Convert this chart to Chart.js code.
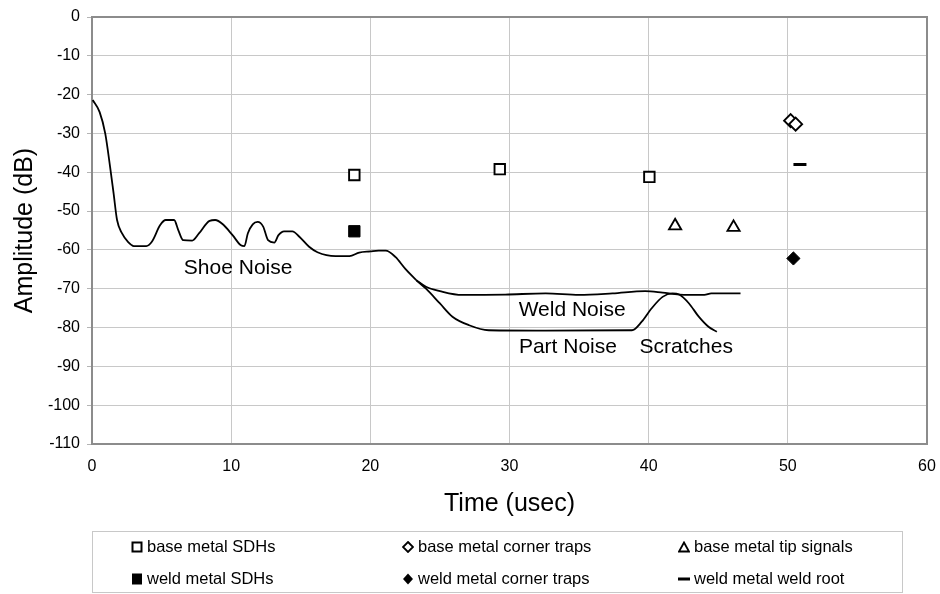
<!DOCTYPE html>
<html>
<head>
<meta charset="utf-8">
<script src="https://cdn.jsdelivr.net/npm/chart.js@4.4.1/dist/chart.umd.min.js"></script>
<style>
  html, body { margin: 0; padding: 0; background: #fff; }
  #wrap { position: relative; width: 940px; height: 594px; }
  #noiseChart { position: absolute; left: 0; top: 0; }
  #legend {
    position: absolute; left: 92px; top: 531px; width: 809px; height: 60px;
    border: 1px solid #c8c8c8; font-family: 'Liberation Sans', Arial, sans-serif;
    font-size: 16.5px; color: #000;
  }
  .item { position: absolute; display: flex; align-items: center; white-space: nowrap; }
  .item svg { margin-right: 4px; }
</style>
</head>
<body>
<div id="wrap">
  <canvas id="noiseChart" width="940" height="594"></canvas>
  <div id="legend"></div>
</div>
<script>
'use strict';

// noise traces (time in usec, amplitude in dB)
const shoeTime = [0.05, 0.55, 0.95, 1.3, 1.55, 1.8, 2.15, 2.6, 3.0, 3.9, 4.3, 4.9, 5.3, 5.9, 6.2, 6.55, 7.2, 7.7, 8.45, 8.85, 9.4, 10.1, 10.7, 10.95, 11.2, 11.55, 11.9, 12.3, 12.65, 13.1, 13.4, 13.8, 14.4, 14.9, 15.6, 16.2, 17.5, 18.5, 19.2, 20.0, 20.6, 21.1, 21.8, 22.5, 23.3];
const shoeAmp = [-21.4, -24.5, -30, -38.6, -45.4, -52.3, -55.7, -58, -59, -59, -57.9, -53.6, -52.3, -52.3, -54.9, -57.5, -57.6, -55.7, -52.5, -52.3, -53.4, -56.2, -58.8, -59, -55.7, -53.4, -52.8, -54, -57.5, -58.1, -56.2, -55.2, -55.2, -56.6, -59.2, -60.6, -61.6, -61.6, -60.7, -60.4, -60.2, -60.2, -61.8, -64.8, -67.8];

const weldTime = [23.3, 24.0, 25.0, 26.6, 29.7, 32.6, 35.0, 37.4, 39.75, 41.0, 42.2, 44.0, 44.5, 46.6];
const weldAmp = [-67.8, -69.5, -70.6, -71.6, -71.5, -71.2, -71.6, -71.2, -70.6, -71.0, -71.5, -71.6, -71.2, -71.2];

const partTime = [23.3, 24.0, 25.0, 25.9, 27.1, 28.5, 32.6, 38.8, 39.5, 40.2, 41.0, 41.7, 42.2, 42.9, 43.6, 44.3, 44.9];
const partAmp = [-67.8, -70.0, -73.8, -77.2, -79.4, -80.7, -80.8, -80.7, -78.5, -75.1, -72.1, -71.2, -71.5, -73.8, -77.2, -79.8, -81.1];

// indications
const baseSdhTime = [18.85, 29.3, 40.05];
const baseSdhAmp = [-40.7, -39.2, -41.2];
const weldSdhTime = [18.85];
const weldSdhAmp = [-55.2];
const baseCornerTime = [50.2, 50.56];
const baseCornerAmp = [-26.7, -27.6];
const weldCornerTime = [50.4];
const weldCornerAmp = [-62.2];
const tipTime = [41.9, 46.1];
const tipAmp = [-53.8, -54.2];
const rootTime = [50.87];
const rootAmp = [-38.0];

const xTicks = [0, 10, 20, 30, 40, 50, 60];
const yTicks = [0, -10, -20, -30, -40, -50, -60, -70, -80, -90, -100, -110];

const noteText = ['Shoe Noise', 'Weld Noise', 'Part Noise', 'Scratches'];
const noteTime = [10.5, 34.5, 34.2, 42.7];
const noteAmp = [-64.7, -75.5, -85.0, -85.0];

const FONT = "'Liberation Sans', Arial, sans-serif";

function pts(xs, ys) {
  return xs.map((x, i) => ({ x: x, y: ys[i] }));
}

function trace(label, xs, ys) {
  return {
    label: label,
    data: pts(xs, ys),
    showLine: true,
    borderColor: '#000',
    borderWidth: 1.8,
    pointRadius: 0,
    cubicInterpolationMode: 'monotone',
    fill: false
  };
}

function marks(label, xs, ys, style, radius, filled, bw) {
  return {
    label: label,
    data: pts(xs, ys),
    showLine: false,
    pointStyle: style,
    pointRadius: radius,
    pointHoverRadius: radius,
    pointBorderWidth: bw,
    pointBorderColor: '#000',
    pointBackgroundColor: filled ? '#000' : '#fff'
  };
}

const framePlugin = {
  id: 'frame',
  beforeDatasetsDraw(chart) {
    const a = chart.chartArea;
    const ctx = chart.ctx;
    ctx.save();
    ctx.strokeStyle = '#8c8c8c';
    ctx.lineWidth = 2;
    ctx.strokeRect(a.left, a.top, a.right - a.left, a.bottom - a.top);
    ctx.restore();
  }
};

const notesPlugin = {
  id: 'notes',
  afterDatasetsDraw(chart) {
    const ctx = chart.ctx;
    const xs = chart.scales.x;
    const ys = chart.scales.y;
    ctx.save();
    ctx.fillStyle = '#000';
    ctx.font = '21px ' + FONT;
    ctx.textAlign = 'center';
    ctx.textBaseline = 'middle';
    noteText.forEach((t, i) => {
      ctx.fillText(t, xs.getPixelForValue(noteTime[i]), ys.getPixelForValue(noteAmp[i]));
    });
    ctx.restore();
  }
};

const chartGraphics = {
  type: 'scatter',
  data: {
    datasets: [
      trace('Shoe Noise', shoeTime, shoeAmp),
      trace('Weld Noise', weldTime, weldAmp),
      trace('Part Noise', partTime, partAmp),
      marks('base metal SDHs', baseSdhTime, baseSdhAmp, 'rect', 7.4, false, 1.9),
      marks('weld metal SDHs', weldSdhTime, weldSdhAmp, 'rect', 8, true, 1),
      marks('base metal corner traps', baseCornerTime, baseCornerAmp, 'rectRot', 6.5, false, 1.9),
      marks('weld metal corner traps', weldCornerTime, weldCornerAmp, 'rectRot', 6.6, true, 1),
      marks('base metal tip signals', tipTime, tipAmp, 'triangle', 7, false, 1.9),
      marks('weld metal weld root', rootTime, rootAmp, 'line', 6.5, false, 3)
    ]
  },
  options: {
    responsive: false,
    animation: false,
    layout: { padding: { left: 0, right: 13, top: 17, bottom: 70 } },
    plugins: {
      legend: { display: false },
      tooltip: { enabled: false }
    },
    scales: {
      x: {
        type: 'linear',
        min: 0,
        max: 60,
        afterBuildTicks: (s) => { s.ticks = xTicks.map(v => ({ value: v })); },
        afterFit: (s) => { s.height = 80; },
        border: { display: false },
        grid: { color: '#c8c8c8', lineWidth: 1, drawTicks: true, tickLength: 13, tickColor: 'rgba(0,0,0,0)' },
        ticks: { color: '#000', padding: 0, maxRotation: 0, font: { family: FONT, size: 16 } },
        title: {
          display: true,
          text: 'Time (usec)',
          color: '#000',
          padding: { top: 0, bottom: 5 },
          font: { family: FONT, size: 25 }
        }
      },
      y: {
        type: 'linear',
        min: -110,
        max: 0,
        afterBuildTicks: (s) => { s.ticks = yTicks.map(v => ({ value: v })); },
        afterFit: (s) => { s.width = 92; },
        border: { display: false },
        grid: { color: '#c8c8c8', lineWidth: 1, tickLength: 5, tickColor: '#b4b4b4' },
        ticks: { color: '#000', padding: 7, font: { family: FONT, size: 16 } },
        title: {
          display: true,
          text: 'Amplitude (dB)',
          color: '#000',
          padding: { top: 10, bottom: 0 },
          font: { family: FONT, size: 25 }
        }
      }
    }
  },
  plugins: [framePlugin, notesPlugin]
};

// legend (html, laid out in two rows of three)
const legendLabels = ['base metal SDHs', 'base metal corner traps', 'base metal tip signals',
  'weld metal SDHs', 'weld metal corner traps', 'weld metal weld root'];
const legendIcons = [
  '<rect x="1.5" y="1.5" width="9" height="9" fill="#fff" stroke="#000" stroke-width="2"/>',
  '<polygon points="6,1 11,6 6,11 1,6" fill="#fff" stroke="#000" stroke-width="1.8"/>',
  '<polygon points="6,1.5 11,10.5 1,10.5" fill="#fff" stroke="#000" stroke-width="1.8"/>',
  '<rect x="1" y="0.5" width="10" height="11" fill="#000"/>',
  '<polygon points="6,0.5 11,6 6,11.5 1,6" fill="#000"/>',
  '<rect x="0" y="4.5" width="12" height="3" fill="#000"/>'
];
const colLeft = [38, 309, 585];
const rowTop = [5, 37];

const legendBox = document.getElementById('legend');
legendLabels.forEach((lab, i) => {
  const d = document.createElement('div');
  d.className = 'item';
  d.style.left = colLeft[i % 3] + 'px';
  d.style.top = rowTop[Math.floor(i / 3)] + 'px';
  d.innerHTML = '<svg width="12" height="12" viewBox="0 0 12 12">' + legendIcons[i] + '</svg><span>' + lab + '</span>';
  legendBox.appendChild(d);
});

const canvasChart = document.getElementById('noiseChart').getContext('2d');
const myChart = new Chart(canvasChart, chartGraphics);
</script>
</body>
</html>
